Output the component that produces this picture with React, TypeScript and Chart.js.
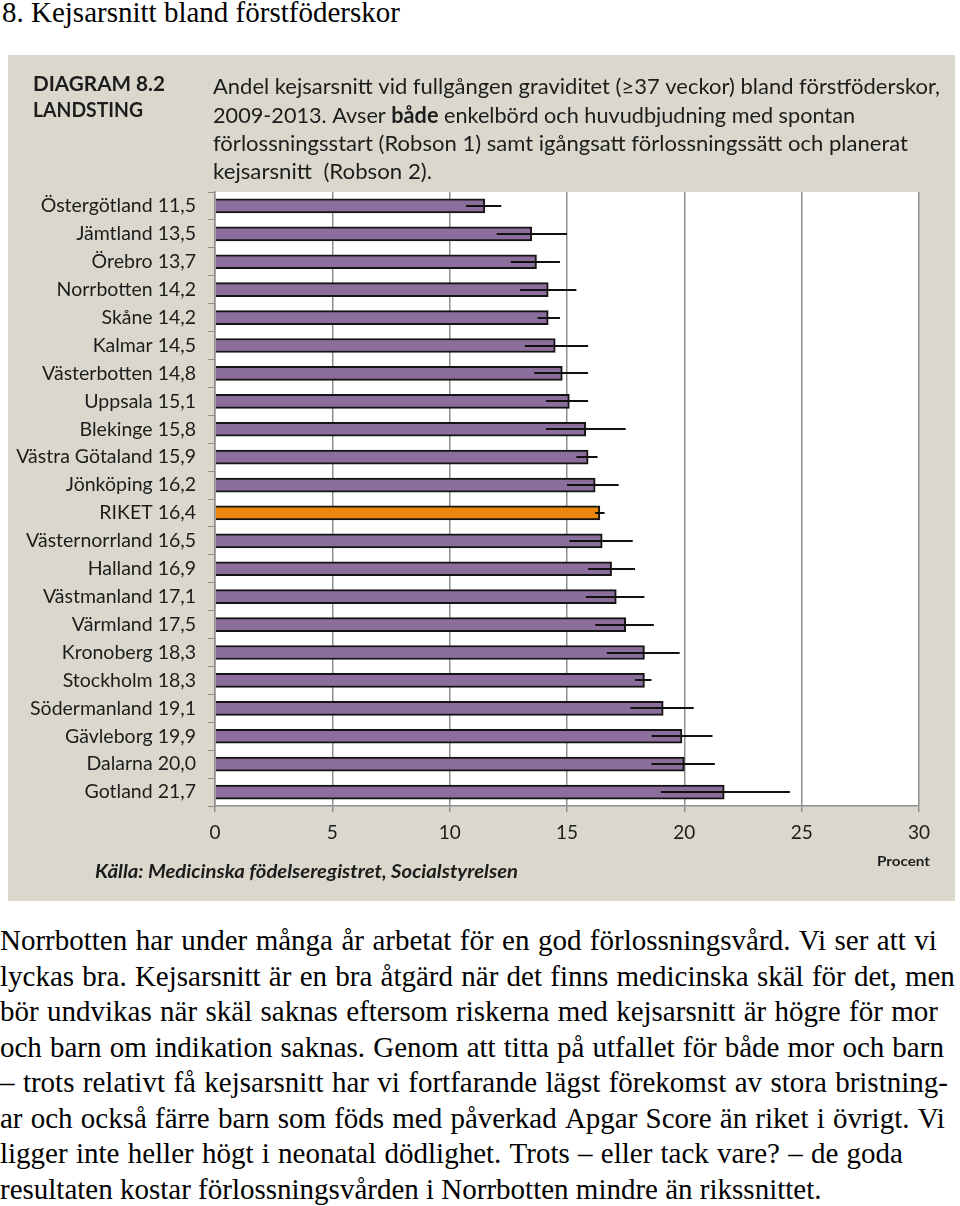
import React, { useEffect, useRef } from "react";
import { Chart, registerables } from "chart.js";

Chart.register(...registerables);

const categories = [
  "Östergötland", "Jämtland", "Örebro", "Norrbotten", "Skåne", "Kalmar",
  "Västerbotten", "Uppsala", "Blekinge", "Västra Götaland", "Jönköping", "RIKET",
  "Västernorrland", "Halland", "Västmanland", "Värmland", "Kronoberg", "Stockholm",
  "Södermanland", "Gävleborg", "Dalarna", "Gotland",
];
const values = [11.5, 13.5, 13.7, 14.2, 14.2, 14.5, 14.8, 15.1, 15.8, 15.9, 16.2, 16.4, 16.5, 16.9, 17.1, 17.5, 18.3, 18.3, 19.1, 19.9, 20.0, 21.7];
const ciLow = [10.7, 12.0, 12.6, 13.0, 13.75, 13.2, 13.6, 14.1, 14.1, 15.4, 15.0, 16.2, 15.1, 15.9, 15.8, 16.2, 16.7, 17.9, 17.7, 18.6, 18.6, 19.0];
const ciHigh = [12.2, 15.0, 14.7, 15.4, 14.7, 15.9, 15.9, 15.9, 17.5, 16.3, 17.2, 16.6, 17.8, 17.9, 18.3, 18.7, 19.8, 18.6, 20.4, 21.2, 21.3, 24.5];
const highlight = "RIKET";
const xMin = 0;
const xMax = 30;
const xStep = 5;

const headerLeft = ["DIAGRAM 8.2", "LANDSTING"];
const headerLines: Array<Array<[string, boolean]>> = [
  [["Andel kejsarsnitt vid fullgången graviditet (≥37 veckor) bland förstföderskor,", false]],
  [["2009-2013. Avser ", false], ["både", true], [" enkelbörd och huvudbjudning med spontan", false]],
  [["förlossningsstart (Robson 1) samt igångsatt förlossningssätt och planerat", false]],
  [["kejsarsnitt  (Robson 2).", false]],
];
const sourceText = "Källa: Medicinska födelseregistret, Socialstyrelsen";
const unitText = "Procent";

const pageTitle = "8. Kejsarsnitt bland förstföderskor";
const paragraphLines = [
  "Norrbotten har under många år arbetat för en god förlossningsvård. Vi ser att vi",
  "lyckas bra. Kejsarsnitt är en bra åtgärd när det finns medicinska skäl för det, men",
  "bör undvikas när skäl saknas eftersom riskerna med kejsarsnitt är högre för mor",
  "och barn om indikation saknas. Genom att titta på utfallet för både mor och barn",
  "– trots relativt få kejsarsnitt har vi fortfarande lägst förekomst av stora bristning-",
  "ar och också färre barn som föds med påverkad Apgar Score än riket i övrigt. Vi",
  "ligger inte heller högt i neonatal dödlighet. Trots – eller tack vare? – de goda",
  "resultaten kostar förlossningsvården i Norrbotten mindre än rikssnittet.",
];
const paragraphWidths = [937, 955, 938, 944, 948, 945, 903, 0];

const FONT = "Lato, 'Open Sans', sans-serif";
const PANEL = "#dad8cd";
const TEXT = "#1c1c1c";

function fmt(v: number) {
  return v.toFixed(1).replace(".", ",");
}

function drawFitted(ctx: CanvasRenderingContext2D, segs: Array<[string, boolean]>, x: number, y: number, w: number, size: number, italic = false, boldAll = false) {
  const fontFor = (b: boolean) => `${italic ? "italic " : ""}${b || boldAll ? "bold " : ""}${size}px ${FONT}`;
  let total = 0;
  const widths = segs.map(([t, b]) => {
    ctx.font = fontFor(b);
    const m = ctx.measureText(t).width;
    total += m;
    return m;
  });
  const s = w / total;
  ctx.save();
  ctx.translate(x, y);
  ctx.scale(s, 1);
  let cx = 0;
  segs.forEach(([t, b], i) => {
    ctx.font = fontFor(b);
    ctx.fillText(t, cx, 0);
    cx += widths[i];
  });
  ctx.restore();
}

const decorPlugin = {
  id: "decor",
  beforeDraw(chart: any) {
    const { ctx, chartArea, width, height } = chart;
    ctx.save();
    ctx.fillStyle = PANEL;
    ctx.fillRect(0, 0, width, height);
    ctx.fillStyle = "#ffffff";
    ctx.fillRect(chartArea.left, chartArea.top, chartArea.right - chartArea.left, chartArea.bottom - chartArea.top);
    ctx.restore();
  },
  afterDraw(chart: any) {
    const { ctx } = chart;
    ctx.save();
    ctx.fillStyle = TEXT;
    ctx.textBaseline = "middle";
    ctx.textAlign = "left";
    drawFitted(ctx, [[headerLeft[0], true]], 25, 29, 132, 21);
    drawFitted(ctx, [[headerLeft[1], true]], 25, 55, 110, 21);
    const ys = [32, 61, 89, 117];
    const ws = [727, 642, 695, 219];
    headerLines.forEach((segs, i) => drawFitted(ctx, segs, 205, ys[i], ws[i], 22));
    drawFitted(ctx, [[sourceText, true]], 87, 817, 423, 19, true);
    drawFitted(ctx, [[unitText, true]], 869, 806, 53, 14);
    ctx.restore();
  },
};

const errorBarPlugin = {
  id: "errorBars",
  afterDatasetsDraw(chart: any) {
    const { ctx } = chart;
    const meta = chart.getDatasetMeta(0);
    const xs = chart.scales.x;
    ctx.save();
    ctx.strokeStyle = "#111111";
    ctx.lineWidth = 2;
    meta.data.forEach((bar: any, i: number) => {
      const y = Math.round(bar.y);
      ctx.beginPath();
      ctx.moveTo(xs.getPixelForValue(ciLow[i]), y);
      ctx.lineTo(xs.getPixelForValue(ciHigh[i]), y);
      ctx.stroke();
    });
    ctx.restore();
  },
};

function ChartPanel() {
  const ref = useRef<HTMLCanvasElement | null>(null);
  useEffect(() => {
    if (!ref.current) return;
    const chart = new Chart(ref.current, {
      type: "bar",
      data: {
        labels: categories,
        datasets: [
          {
            data: values,
            backgroundColor: categories.map((c) => (c === highlight ? "#ea870c" : "#8b6e9b")),
            borderColor: "#141414",
            borderWidth: 2,
            barThickness: 14,
          },
        ],
      },
      options: {
        indexAxis: "y",
        animation: false,
        responsive: false,
        devicePixelRatio: 1,
        layout: { padding: { top: 137, right: 36, left: 0, bottom: 0 } },
        plugins: { legend: { display: false }, tooltip: { enabled: false }, title: { display: false } },
        scales: {
          x: {
            min: xMin,
            max: xMax,
            ticks: { stepSize: xStep, font: { family: FONT, size: 19 }, color: TEXT, padding: 9 },
            grid: { color: "#8e8e8e", lineWidth: 1.5, tickLength: 6, drawTicks: true },
            border: { display: true, color: "#8e8e8e", width: 1.5 },
            afterFit: (scale: any) => {
              scale.height = 95;
            },
          },
          y: {
            ticks: {
              font: { family: FONT, size: 19.5 },
              color: TEXT,
              padding: 12,
              autoSkip: false,
              callback: function (this: any, value: any, index: number) {
                return `${categories[index]} ${fmt(values[index])}`;
              },
            },
            grid: { drawOnChartArea: false, tickLength: 7, color: "#8e8e8e", offset: true },
            border: { display: true, color: "#8e8e8e", width: 1.5 },
            afterFit: (scale: any) => {
              scale.width = 207;
            },
          },
        },
      } as any,
      plugins: [decorPlugin, errorBarPlugin],
    });
    return () => chart.destroy();
  }, []);
  return <canvas ref={ref} width={947} height={846} style={{ position: "absolute", left: 8, top: 55, width: 947, height: 846 }} />;
}

export default function App() {
  useEffect(() => {
    document.body.style.margin = "0";
  }, []);
  const serif = "'Liberation Serif', 'Times New Roman', serif";
  return (
    <div style={{ position: "relative", width: 960, height: 1206, overflow: "hidden", background: "#fff" }}>
      <div style={{ position: "absolute", left: 2, top: -5, fontFamily: serif, fontSize: 29, lineHeight: "35.5px", whiteSpace: "nowrap", color: "#000" }}>
        {pageTitle}
      </div>
      <ChartPanel />
      <div style={{ position: "absolute", left: 0, top: 923, fontFamily: serif, fontSize: 29, lineHeight: "35.5px", color: "#000" }}>
        {paragraphLines.map((line, i) => (
          <div
            key={i}
            style={
              paragraphWidths[i] > 0
                ? { display: "flex", justifyContent: "space-between", width: paragraphWidths[i], whiteSpace: "nowrap" }
                : { whiteSpace: "nowrap" }
            }
          >
            {paragraphWidths[i] > 0 ? line.split(" ").map((w, j) => <span key={j}>{w}</span>) : line}
          </div>
        ))}
      </div>
    </div>
  );
}
